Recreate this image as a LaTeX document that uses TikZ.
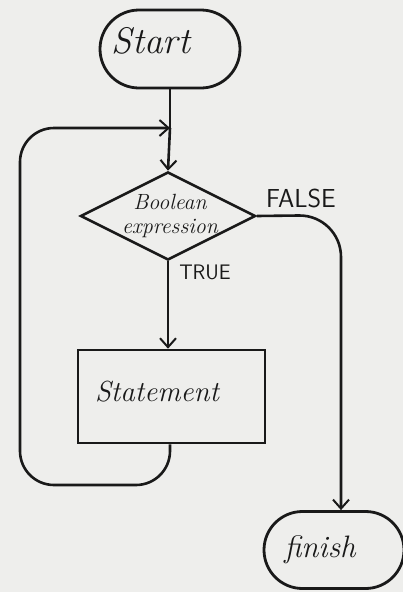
\documentclass[tikz,border=0pt]{standalone}
\usetikzlibrary{shapes.geometric,shapes.misc,arrows.meta}
\definecolor{paper}{RGB}{238,238,236}
\definecolor{ink}{RGB}{25,25,25}
\begin{document}
\begin{tikzpicture}[x=1pt,y=-1pt,
  line width=2.6pt, draw=ink,
  every node/.style={text=ink},
  arr/.style={-{Straight Barb[length=9pt,width=16pt,line width=2pt]}},
  term/.style={draw, rounded rectangle, inner sep=0pt, line width=2.8pt},
  hand/.style={inner sep=1pt},
  caps/.style={font=\fontsize{26}{26}\selectfont\sffamily, inner sep=1pt}]
\fill[paper] (0,0) rectangle (403,592);
\useasboundingbox (0,0) rectangle (403,592);
% nodes
\node[term, minimum width=140pt, minimum height=78pt] (start) at (170,49) {};
\node[hand, font=\fontsize{37}{38}\selectfont\itshape] (starttxt) at (151,41) {Start};
\node[draw, diamond, inner sep=0pt, minimum width=175pt, minimum height=88pt, line width=2.6pt] (dec) at (168,216) {};
\node[hand, align=center, font=\fontsize{22}{24}\selectfont\itshape] (dectxt) at (170,216) {Boolean\\expression};
\node[draw, rectangle, minimum width=187pt, minimum height=93pt, line width=2.6pt] (stmt) at (171.5,396.5) {};
\node[hand, font=\fontsize{29}{30}\selectfont\itshape] (stmttxt) at (157,392) {Statement};
\node[term, minimum width=140pt, minimum height=77pt] (fin) at (334,550) {};
\node[hand, font=\fontsize{31}{32}\selectfont\itshape] (fintxt) at (320,550) {finish};
\node[caps] (false) at (301,198) {FALSE};
\node[caps, font=\fontsize{21}{21}\selectfont\sffamily] (true) at (205,272) {TRUE};
% coordinates
\coordinate (join) at (170,128);
\coordinate (fx) at (341,215);
\coordinate (lb) at (170,485);
% connectors
\draw (start.south -| join) -- (join);
\draw[arr] (join) -- (dec.north);
\draw[arr] (dec.south) -- (dec.south |- stmt.north);
\draw[arr, rounded corners=42pt] (dec.east) -- (fx) -- (fx |- fin.north);
\draw[arr, rounded corners=34pt] (stmt.south -| join) -- (lb) -- (20,485) -- (20,128) -- (join);
\end{tikzpicture}
\end{document}
